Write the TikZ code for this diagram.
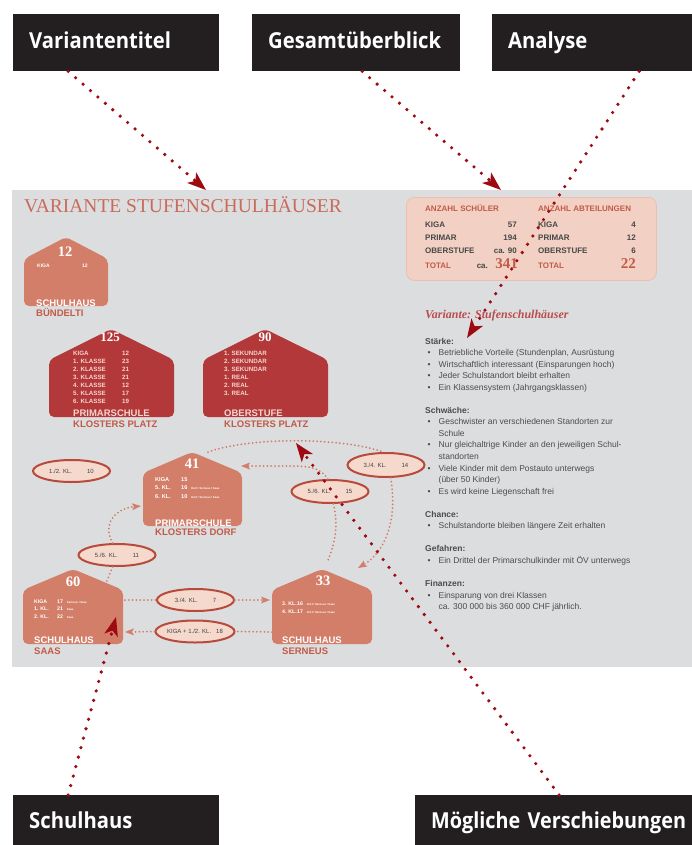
\documentclass[tikz,border=0pt]{standalone}
\usepackage{fontspec}
\setmainfont{Liberation Sans}
\newfontfamily\serifschrift{Liberation Serif}
\newfontfamily\etikettschrift[FakeStretch=0.92]{Open Sans}
\newfontfamily\etikettschmal[FakeStretch=0.9]{Open Sans}
\usetikzlibrary{positioning, shapes.geometric, arrows.meta}

\definecolor{grau}{HTML}{DCDDDF}
\definecolor{schwarz}{HTML}{231F20}
\definecolor{weinrot}{HTML}{9E0A12}
\definecolor{lachs}{HTML}{D27E69}
\definecolor{dunkelrot}{HTML}{B3383A}
\definecolor{ziegel}{HTML}{C25A48}
\definecolor{pfirsich}{HTML}{F5D9CD}
\definecolor{rahmen}{HTML}{B84A3C}
\definecolor{kasten}{HTML}{F2D1C4}
\definecolor{textgrau}{HTML}{4C4C4C}
\definecolor{rosa}{HTML}{F5D6CE}

\tikzset{
  etikett/.style={fill=schwarz, text=white, anchor=north west, inner xsep=16pt, inner ysep=0pt,
    align=left, font=\etikettschrift\bfseries\fontsize{22}{26}\selectfont,
    text height=16pt, text depth=5pt},
  hinweis/.style={draw=weinrot, line width=3.6pt, line cap=round, dash pattern=on 0pt off 9.8pt,
    -{Stealth[length=19pt, width=14pt, inset=5pt, line width=0pt]}},
  haus/.style={rounded corners=5pt},
  zahl/.style={text=white, inner sep=0pt, font=\serifschrift\bfseries\fontsize{14.5}{15}\selectfont},
  liste/.style={anchor=base west, inner sep=0pt, text=white, font=\bfseries\fontsize{5.4}{7.8}\selectfont},
  hausname/.style={anchor=base west, inner sep=0pt, text=white, font=\bfseries\fontsize{9.5}{10}\selectfont},
  ort/.style={hausname, text=ziegel},
  klasse/.style={ellipse, draw=rahmen, line width=2pt, fill=pfirsich, minimum width=77pt,
    minimum height=22pt, inner sep=0pt, text=black!75, font=\fontsize{6}{7}\selectfont},
  wechsel/.style={draw=lachs, line width=2pt, line cap=round, dash pattern=on 0pt off 3.8pt},
  spitze/.style={-{Stealth[length=9pt, width=7pt, inset=2pt, line width=0pt]}},
  zeile/.style={inner sep=0pt, text=black!72, font=\bfseries\fontsize{8}{9}\selectfont},
  kopf/.style={zeile, anchor=base west, text=ziegel},
  total/.style={inner sep=0pt, text=ziegel, font=\serifschrift\bfseries\fontsize{15}{15}\selectfont},
}
\newcommand{\klein}[1]{\hspace{4pt}{\fontsize{2.8}{3}\selectfont #1}}

\begin{document}
\begin{tikzpicture}[x=1pt, y=-1pt]
    \useasboundingbox (0,0) rectangle (692,845);

    % 灰色底板
    \fill[grau] (12,190) rectangle (692,667);

    % 标题
    \node[anchor=base west, inner sep=0pt, text=ziegel!90,
      font=\serifschrift\fontsize{19.5}{20}\selectfont] (titel) at (24,212) {VARIANTE STUFENSCHULHÄUSER};

    % 总览表
    \node[draw=kasten!85!ziegel, line width=0.8pt, fill=kasten, rounded corners=8pt, anchor=north west,
      minimum width=250pt, minimum height=83pt] (uebersicht) at (406,197) {};
    \node[kopf] (kopf-schueler) at (425,211) {ANZAHL SCHÜLER};
    \node[kopf] (kopf-abteilungen) at (538,211) {ANZAHL ABTEILUNGEN};
    \foreach \y/\a/\b/\c [count=\i] in {227/KIGA/57/4, 240/PRIMAR/194/12, 253/OBERSTUFE/ca. 90/6} {
        \node[zeile, anchor=base west] (links-\i) at (425,\y) {\a};
        \node[zeile, anchor=base east] (wert-\i) at (517,\y) {\b};
        \node[zeile, anchor=base west] (rechts-\i) at (538,\y) {\a};
        \node[zeile, anchor=base east] (anzahl-\i) at (636,\y) {\c};
    }
    \node[kopf] (total-links) at (425,268) {TOTAL};
    \node[total, anchor=base east] (total-schueler) at (518,268) {341};
    \node[zeile, anchor=base east] (circa) at ([xshift=-7pt]total-schueler.base west) {ca.};
    \node[kopf] (total-rechts) at (538,268) {TOTAL};
    \node[total, anchor=base east] (total-abteilungen) at (636,268) {22};

    % 校舍：Bündelti
    \fill[haus, lachs] (24,306) -- (24,259) -- (66,237) -- (108,259) -- (108,306) -- cycle;
    \node[zahl] (zahl-buendelti) at (65,252) {12};
    \node[liste, font=\bfseries\fontsize{5}{7}\selectfont] (liste-buendelti) at (37,267) {\makebox[45pt][l]{KIGA}12};
    \node[hausname] (name-buendelti) at (36,306) {SCHULHAUS};
    \node[ort] (ort-buendelti) at (36,316.5) {BÜNDELTI};

    % 校舍：Primarschule Klosters Platz
    \fill[haus, dunkelrot] (49,417) -- (49,360) -- (111,329) -- (174,360) -- (174,417) -- cycle;
    \node[zahl, font=\serifschrift\bfseries\fontsize{13}{13}\selectfont] (zahl-platz) at (110,337) {125};
    \node[liste, text=rosa, font=\bfseries\fontsize{6.2}{8}\selectfont] (liste-platz) at (73,355.5)
      {\begin{tabular}[t]{@{}p{49pt}@{}l@{}}
        KIGA & 12\\ 1. KLASSE & 23\\ 2. KLASSE & 21\\ 3. KLASSE & 21\\
        4. KLASSE & 12\\ 5. KLASSE & 17\\ 6. KLASSE & 19
      \end{tabular}};
    \node[hausname, text=rosa] (name-platz) at (73,416) {PRIMARSCHULE};
    \node[ort] (ort-platz) at (73,427) {KLOSTERS PLATZ};

    % 校舍：Oberstufe Klosters Platz
    \fill[haus, dunkelrot] (203,417) -- (203,360) -- (265,329) -- (328,360) -- (328,417) -- cycle;
    \node[zahl, font=\serifschrift\bfseries\fontsize{13}{13}\selectfont] (zahl-oberstufe) at (265,337) {90};
    \node[liste, text=rosa, font=\bfseries\fontsize{6.2}{8}\selectfont] (liste-oberstufe) at (224,355.5)
      {\begin{tabular}[t]{@{}l@{}}
        1. SEKUNDAR\\ 2. SEKUNDAR\\ 3. SEKUNDAR\\ 1. REAL\\ 2. REAL\\ 3. REAL
      \end{tabular}};
    \node[hausname, text=rosa] (name-oberstufe) at (224,416) {OBERSTUFE};
    \node[ort] (ort-oberstufe) at (224,427) {KLOSTERS PLATZ};

    % 校舍：Primarschule Klosters Dorf
    \fill[haus, lachs] (143,526) -- (143,473) -- (192,452) -- (242,473) -- (242,526) -- cycle;
    \node[zahl] (zahl-dorf) at (192,464) {41};
    \node[liste, font=\bfseries\fontsize{5.6}{8.5}\selectfont] (liste-dorf) at (155,481)
      {\begin{tabular}[t]{@{}p{26pt}@{}l@{}}
        KIGA & 15\\ 5. KL. & 16\klein{Dorf / Serneus / Saas}\\ 6. KL. & 10\klein{Dorf / Serneus / Saas}
      \end{tabular}};
    \node[hausname] (name-dorf) at (155,526) {PRIMARSCHULE};
    \node[ort] (ort-dorf) at (155,535) {KLOSTERS DORF};

    % 校舍：Saas
    \fill[haus, lachs] (23,644) -- (23,590) -- (73,569) -- (123,590) -- (123,644) -- cycle;
    \node[zahl] (zahl-saas) at (73,582) {60};
    \node[liste, font=\bfseries\fontsize{5.2}{7.5}\selectfont] (liste-saas) at (34,603)
      {\begin{tabular}[t]{@{}p{23pt}@{}l@{}}
        KIGA & 17\klein{Serneus / Saas}\\ 1. KL. & 21\klein{Saas}\\ 2. KL. & 22\klein{Saas}
      \end{tabular}};
    \node[hausname] (name-saas) at (34,643) {SCHULHAUS};
    \node[ort] (ort-saas) at (34,654) {SAAS};

    % 校舍：Serneus
    \fill[haus, lachs] (272,644) -- (272,590) -- (322,569) -- (372,590) -- (372,644) -- cycle;
    \node[zahl] (zahl-serneus) at (323,581) {33};
    \node[liste, font=\bfseries\fontsize{5.2}{8}\selectfont] (liste-serneus) at (282,605)
      {\begin{tabular}[t]{@{}p{15pt}@{}l@{}}
        3. KL. & 16\klein{Dorf / Serneus / Saas}\\ 4. KL. & 17\klein{Dorf / Serneus / Saas}
      \end{tabular}};
    \node[hausname] (name-serneus) at (282,643) {SCHULHAUS};
    \node[ort] (ort-serneus) at (282,654) {SERNEUS};

    % 可能的班级迁移
    \node[klasse] (e10) at (71.5,471) {1./2. KL.\hspace{15pt}10};
    \node[klasse] (e11) at (117,555) {5./6. KL.\hspace{15pt}11};
    \node[klasse, minimum height=24pt] (e14) at (386,465) {3./4. KL.\hspace{15pt}14};
    \node[klasse, minimum height=23pt] (e15) at (330,491.5) {5./6. KL.\hspace{15pt}15};
    \node[klasse] (e7) at (195.5,600) {3./4. KL.\hspace{15pt}7};
    \node[klasse, minimum width=79pt] (e18) at (195,631.5) {KIGA + 1./2. KL.\hspace{5pt}18};

    \coordinate (saas-dach) at (106,583);
    \coordinate (saas-o1) at (125,600);
    \coordinate (saas-o2) at (125,632);
    \coordinate (serneus-w1) at (270,600);
    \coordinate (serneus-w2) at (272,632);
    \coordinate (serneus-dach) at (327,563);
    \coordinate (serneus-ne) at (358,568);
    \coordinate (dorf-w) at (141,506);
    \coordinate (dorf-e) at (241,466);
    \coordinate (dorf-n) at (208,452);

    \draw[wechsel] (e11.250) -- (saas-dach);
    \draw[wechsel, spitze] (e11.110) .. controls (101,522) and (118,508) .. (dorf-w);
    \draw[wechsel] (saas-o1) -- (e7.west);
    \draw[wechsel, spitze] (e7.east) -- (serneus-w1);
    \draw[wechsel] (serneus-w2) -- (e18.east);
    \draw[wechsel, spitze] (e18.west) -- (saas-o2);
    \draw[wechsel] (e15.-75) .. controls (340,530) and (332,550) .. (serneus-dach);
    \draw[wechsel, spitze] (e15.100) .. controls (321,468) and (310,466) .. (290,466) -- (dorf-e);
    \draw[wechsel] (dorf-n) .. controls (250,437) and (340,437) .. (e14.100);
    \draw[wechsel, spitze] (e14.-70) .. controls (398,520) and (385,552) .. (serneus-ne);

    % 分析文字
    \node[anchor=base west, inner sep=0pt, text=dunkelrot!90,
      font=\serifschrift\bfseries\itshape\fontsize{12}{12}\selectfont] (variante) at (425,318) {Variante: Stufenschulhäuser};
    \node[anchor=base west, inner sep=0pt, text=textgrau, font=\fontsize{8.5}{11.55}\selectfont] (analyse-text) at (425,344)
      {\begin{tabular}[t]{@{\hspace{2.5pt}}l@{\hspace{8pt}}l@{}}
        \multicolumn{2}{@{}l}{\bfseries Stärke:}\\
        \textbullet & Betriebliche Vorteile (Stundenplan, Ausrüstung\\
        \textbullet & Wirtschaftlich interessant (Einsparungen hoch)\\
        \textbullet & Jeder Schulstandort bleibt erhalten\\
        \textbullet & Ein Klassensystem (Jahrgangsklassen)\\
        & \\
        \multicolumn{2}{@{}l}{\bfseries Schwäche:}\\
        \textbullet & Geschwister an verschiedenen Standorten zur\\
        & Schule\\
        \textbullet & Nur gleichaltrige Kinder an den jeweiligen Schul-\\
        & standorten\\
        \textbullet & Viele Kinder mit dem Postauto unterwegs\\
        & (über 50 Kinder)\\
        \textbullet & Es wird keine Liegenschaft frei\\
        & \\
        \multicolumn{2}{@{}l}{\bfseries Chance:}\\
        \textbullet & Schulstandorte bleiben längere Zeit erhalten\\
        & \\
        \multicolumn{2}{@{}l}{\bfseries Gefahren:}\\
        \textbullet & Ein Drittel der Primarschulkinder mit ÖV unterwegs\\
        & \\
        \multicolumn{2}{@{}l}{\bfseries Finanzen:}\\
        \textbullet & Einsparung von drei\ Klassen\\
        & ca. 300 000 bis 360 000 CHF jährlich.
      \end{tabular}};

    % 黑色说明标签
    \node[etikett, text width=174pt, minimum height=57pt] (variantentitel) at (13,14) {Variantentitel};
    \node[etikett, text width=176pt, minimum height=57pt] (gesamt) at (252,14) {Gesamtüberblick};
    \node[etikett, text width=176pt, minimum height=57pt] (analyse) at (492,14) {Analyse};
    \node[etikett, text width=174pt, minimum height=55pt] (schulhaus) at (13,795) {Schulhaus};
    \node[etikett, text width=256pt, minimum height=55pt,
      font=\etikettschmal\bfseries\fontsize{22}{26}\selectfont] (verschiebungen) at (415,795) {\mbox{Mögliche Verschiebungen}};

    % 指示箭头
    \coordinate (ziel-titel) at (206,190);
    \coordinate (ziel-tabelle) at (501,190);
    \coordinate (ziel-analyse) at (467,338);
    \coordinate (ziel-haus) at (116,617);
    \coordinate (ziel-pfeile) at (296,443);
    \draw[hinweis] ([xshift=-48pt]variantentitel.south) -- (ziel-titel);
    \draw[hinweis] ([xshift=6pt]gesamt.south) -- (ziel-tabelle);
    \draw[hinweis] ([xshift=43pt]analyse.south) -- (ziel-analyse);
    \draw[hinweis] ([xshift=-48pt]schulhaus.north) -- (ziel-haus);
    \draw[hinweis] (verschiebungen.north) -- (ziel-pfeile);
\end{tikzpicture}
\end{document}
